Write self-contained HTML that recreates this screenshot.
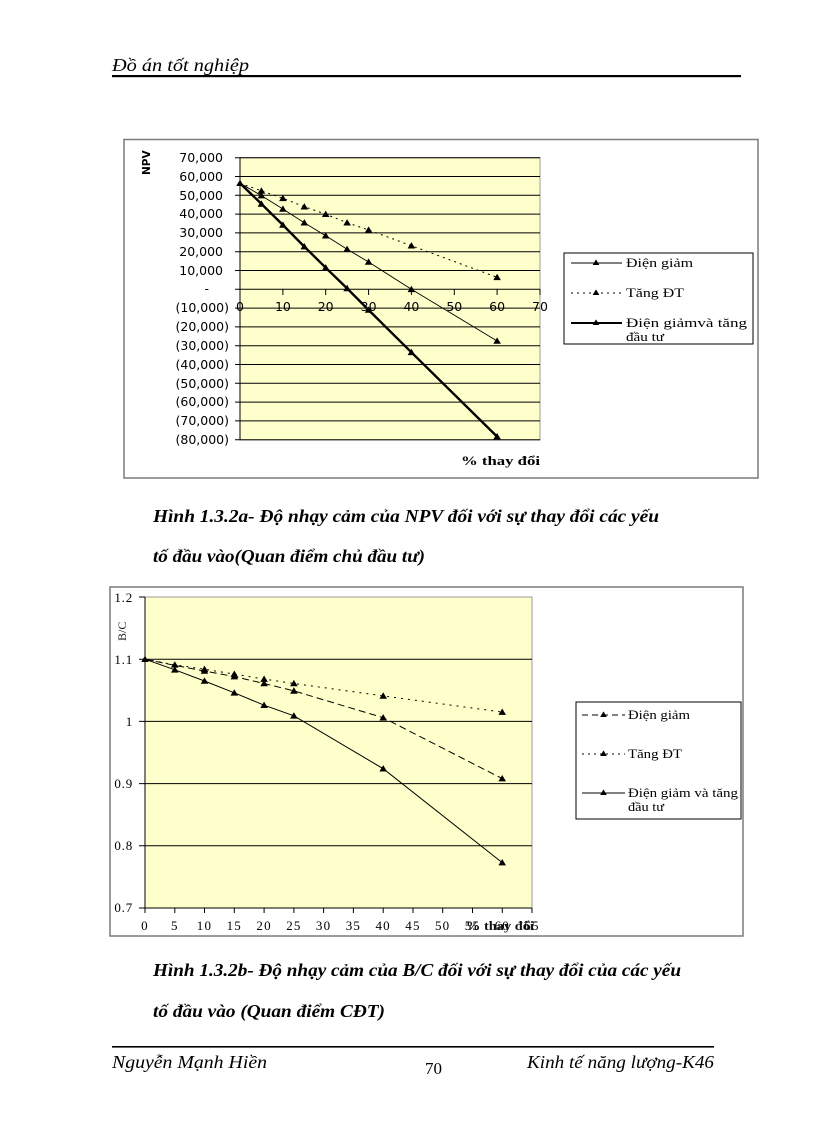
<!DOCTYPE html>
<html>
<head>
<meta charset="utf-8">
<style>
  html,body{margin:0;padding:0;background:#fff;}
  svg{display:block;}
  .ser{font-family:"Liberation Serif","DejaVu Serif",serif;}
  .sans{font-family:"DejaVu Sans","Liberation Sans",sans-serif;}
</style>
</head>
<body>
<svg width="816" height="1123" viewBox="0 0 816 1123" xmlns="http://www.w3.org/2000/svg">
  <defs>
    <symbol id="tri" viewBox="-4 -4 8 8" overflow="visible">
      <polygon points="0,-3.6 3.8,2.8 -3.8,2.8" fill="#000"/>
    </symbol>
  </defs>

  <!-- Header -->
  <text x="112" y="71" class="ser" font-style="italic" font-size="18" textLength="137" lengthAdjust="spacingAndGlyphs">Đồ án tốt nghiệp</text>
  <rect x="112" y="75" width="629" height="2.2" fill="#000"/>

  <!-- ================= CHART 1 ================= -->
  <rect x="124" y="139.5" width="634" height="338.5" fill="#fff" stroke="#7a7a7a" stroke-width="1.5"/>
  <rect x="240" y="157.7" width="300" height="282.3" fill="#ffffcc" stroke="#9a9a9a" stroke-width="1"/>
  <g stroke="#000" stroke-width="1">
    <line x1="240" y1="157.7" x2="540" y2="157.7"/>
    <line x1="240" y1="176.5" x2="540" y2="176.5"/>
    <line x1="240" y1="195.3" x2="540" y2="195.3"/>
    <line x1="240" y1="214.1" x2="540" y2="214.1"/>
    <line x1="240" y1="232.9" x2="540" y2="232.9"/>
    <line x1="240" y1="251.7" x2="540" y2="251.7"/>
    <line x1="240" y1="270.5" x2="540" y2="270.5"/>
    <line x1="240" y1="289.3" x2="540" y2="289.3"/>
    <line x1="240" y1="308.1" x2="540" y2="308.1"/>
    <line x1="240" y1="326.9" x2="540" y2="326.9"/>
    <line x1="240" y1="345.7" x2="540" y2="345.7"/>
    <line x1="240" y1="364.5" x2="540" y2="364.5"/>
    <line x1="240" y1="383.3" x2="540" y2="383.3"/>
    <line x1="240" y1="402.1" x2="540" y2="402.1"/>
    <line x1="240" y1="420.9" x2="540" y2="420.9"/>
    <line x1="240" y1="439.7" x2="540" y2="439.7"/>
    <line x1="240" y1="157.7" x2="240" y2="440"/>
    <path d="M235 157.7H240M235 176.5H240M235 195.3H240M235 214.1H240M235 232.9H240M235 251.7H240M235 270.5H240M235 289.3H240M235 308.1H240M235 326.9H240M235 345.7H240M235 364.5H240M235 383.3H240M235 402.1H240M235 420.9H240M235 439.7H240"/>
    <path d="M240 289.3V295M282.9 289.3V295M325.7 289.3V295M368.6 289.3V295M411.4 289.3V295M454.3 289.3V295M497.1 289.3V295M540 289.3V295"/>
  </g>
  <g class="sans" font-size="12.5" fill="#000" text-anchor="end">
    <text x="223" y="162">70,000</text>
    <text x="223" y="181">60,000</text>
    <text x="223" y="200">50,000</text>
    <text x="223" y="218">40,000</text>
    <text x="223" y="237">30,000</text>
    <text x="223" y="256">20,000</text>
    <text x="223" y="275">10,000</text>
    <text x="209" y="293">-</text>
    <text x="229" y="312">(10,000)</text>
    <text x="229" y="331">(20,000)</text>
    <text x="229" y="350">(30,000)</text>
    <text x="229" y="369">(40,000)</text>
    <text x="229" y="388">(50,000)</text>
    <text x="229" y="406">(60,000)</text>
    <text x="229" y="425">(70,000)</text>
    <text x="229" y="444">(80,000)</text>
  </g>
  <g class="sans" font-size="12.5" fill="#000" text-anchor="middle">
    <text x="240" y="311">0</text>
    <text x="282.9" y="311">10</text>
    <text x="325.7" y="311">20</text>
    <text x="368.6" y="311">30</text>
    <text x="411.4" y="311">40</text>
    <text x="454.3" y="311">50</text>
    <text x="497.1" y="311">60</text>
    <text x="540" y="311">70</text>
  </g>
  <text transform="translate(150,175) rotate(-90)" class="sans" font-size="10.5" font-weight="bold">NPV</text>
  <text x="461" y="465" class="ser" font-size="13" font-weight="bold" textLength="79" lengthAdjust="spacingAndGlyphs">%  thay đổi</text>

  <!-- series chart 1 -->
  <polyline fill="none" stroke="#000" stroke-width="1" stroke-dasharray="2,4"
    points="240,183.2 261.4,190.9 282.9,198.3 304.3,206.7 325.7,214.2 347.1,222.7 368.6,230 411.4,245.7 497.1,277.3"/>
  <polyline fill="none" stroke="#000" stroke-width="0.9"
    points="240,183.2 261.4,195.6 282.9,209 304.3,222.7 325.7,235.7 347.1,249.2 368.6,262 411.4,289.3 497.1,341"/>
  <polyline fill="none" stroke="#000" stroke-width="2.4"
    points="240,183.2 261.4,203.9 282.9,225 304.3,246.6 325.7,267.7 347.1,288.4 368.6,310 411.4,352.3 497.1,436.6"/>
  <g>
    <use href="#tri" x="236" y="179.2" width="8" height="8"/>
    <use href="#tri" x="257.4" y="186.9" width="8" height="8"/>
    <use href="#tri" x="278.9" y="194.3" width="8" height="8"/>
    <use href="#tri" x="300.3" y="202.7" width="8" height="8"/>
    <use href="#tri" x="321.7" y="210.2" width="8" height="8"/>
    <use href="#tri" x="343.1" y="218.7" width="8" height="8"/>
    <use href="#tri" x="364.6" y="226" width="8" height="8"/>
    <use href="#tri" x="407.4" y="241.7" width="8" height="8"/>
    <use href="#tri" x="493.1" y="273.3" width="8" height="8"/>

    <use href="#tri" x="257.4" y="191.6" width="8" height="8"/>
    <use href="#tri" x="278.9" y="205" width="8" height="8"/>
    <use href="#tri" x="300.3" y="218.7" width="8" height="8"/>
    <use href="#tri" x="321.7" y="231.7" width="8" height="8"/>
    <use href="#tri" x="343.1" y="245.2" width="8" height="8"/>
    <use href="#tri" x="364.6" y="258" width="8" height="8"/>
    <use href="#tri" x="407.4" y="285.3" width="8" height="8"/>
    <use href="#tri" x="493.1" y="337" width="8" height="8"/>

    <use href="#tri" x="257.4" y="199.9" width="8" height="8"/>
    <use href="#tri" x="278.9" y="221" width="8" height="8"/>
    <use href="#tri" x="300.3" y="242.6" width="8" height="8"/>
    <use href="#tri" x="321.7" y="263.7" width="8" height="8"/>
    <use href="#tri" x="343.1" y="284.4" width="8" height="8"/>
    <use href="#tri" x="364.6" y="306" width="8" height="8"/>
    <use href="#tri" x="407.4" y="348.3" width="8" height="8"/>
    <use href="#tri" x="493.1" y="432.6" width="8" height="8"/>
  </g>

  <!-- legend chart 1 -->
  <rect x="564" y="253" width="189" height="91" fill="#fff" stroke="#000" stroke-width="1"/>
  <line x1="571" y1="263" x2="622" y2="263" stroke="#000" stroke-width="0.9"/>
  <use href="#tri" x="592.5" y="259" width="7" height="7"/>
  <line x1="571" y1="293" x2="622" y2="293" stroke="#000" stroke-width="1" stroke-dasharray="2,4"/>
  <use href="#tri" x="592.5" y="289" width="7" height="7"/>
  <line x1="571" y1="323" x2="622" y2="323" stroke="#000" stroke-width="2"/>
  <use href="#tri" x="592.5" y="319" width="7" height="7"/>
  <g class="ser" font-size="13" fill="#000">
    <text x="626" y="267" textLength="67" lengthAdjust="spacingAndGlyphs">Điện giảm</text>
    <text x="626" y="297" textLength="58" lengthAdjust="spacingAndGlyphs">Tăng ĐT</text>
    <text x="626" y="327" textLength="121" lengthAdjust="spacingAndGlyphs">Điện giảmvà tăng</text>
    <text x="626" y="341" textLength="38" lengthAdjust="spacingAndGlyphs">đầu tư</text>
  </g>

  <!-- Caption 1 -->
  <g class="ser" font-weight="bold" font-style="italic" font-size="18">
    <text x="153" y="522" textLength="506" lengthAdjust="spacingAndGlyphs">Hình 1.3.2a- Độ nhạy cảm của NPV đối với sự thay đổi các yếu</text>
    <text x="153" y="562" textLength="272" lengthAdjust="spacingAndGlyphs">tố đầu vào(Quan điểm chủ đầu tư)</text>
  </g>

  <!-- ================= CHART 2 ================= -->
  <rect x="110" y="587" width="633" height="349" fill="#fff" stroke="#7a7a7a" stroke-width="1.5"/>
  <rect x="145" y="597" width="387" height="311" fill="#ffffcc" stroke="#9a9a9a" stroke-width="1"/>
  <g stroke="#000" stroke-width="1">
    <line x1="145" y1="659.2" x2="532" y2="659.2"/>
    <line x1="145" y1="721.4" x2="532" y2="721.4"/>
    <line x1="145" y1="783.6" x2="532" y2="783.6"/>
    <line x1="145" y1="845.8" x2="532" y2="845.8"/>
    <line x1="145" y1="908" x2="532" y2="908"/>
    <line x1="145" y1="597" x2="145" y2="908"/>
    <path d="M139 597H145M139 659.2H145M139 721.4H145M139 783.6H145M139 845.8H145M139 908H145"/>
    <path d="M145 908V913M174.8 908V913M204.5 908V913M234.3 908V913M264.1 908V913M293.9 908V913M323.6 908V913M353.4 908V913M383.2 908V913M413 908V913M442.7 908V913M472.5 908V913M502.3 908V913M532 908V913"/>
  </g>
  <g class="ser" font-size="13" fill="#000" text-anchor="end" letter-spacing="0.8">
    <text x="133" y="602">1.2</text>
    <text x="133" y="664">1.1</text>
    <text x="133" y="726">1</text>
    <text x="133" y="788">0.9</text>
    <text x="133" y="850">0.8</text>
    <text x="133" y="912">0.7</text>
  </g>
  <g class="ser" font-size="13" fill="#000" text-anchor="middle" letter-spacing="1.2">
    <text x="145" y="930">0</text>
    <text x="174.8" y="930">5</text>
    <text x="204.5" y="930">10</text>
    <text x="234.3" y="930">15</text>
    <text x="264.1" y="930">20</text>
    <text x="293.9" y="930">25</text>
    <text x="323.6" y="930">30</text>
    <text x="353.4" y="930">35</text>
    <text x="383.2" y="930">40</text>
    <text x="413" y="930">45</text>
    <text x="442.7" y="930">50</text>
    <text x="472.5" y="930">55</text>
    <text x="502.3" y="930">60</text>
    <text x="532" y="930">65</text>
  </g>
  <text x="466" y="930" class="ser" font-size="13" font-weight="bold" fill="#111" textLength="68" lengthAdjust="spacingAndGlyphs">% thay đổi</text>
  <text transform="translate(126,641) rotate(-90)" class="ser" font-size="12" fill="#222">B/C</text>

  <!-- series chart 2 -->
  <polyline fill="none" stroke="#000" stroke-width="1" stroke-dasharray="2,5"
    points="145,659.2 174.8,664.8 204.5,669.2 234.3,674.1 264.1,679.1 293.9,683.5 383.2,695.9 502.2,712.1"/>
  <polyline fill="none" stroke="#000" stroke-width="1" stroke-dasharray="7,4"
    points="145,659.2 174.8,665.4 204.5,671 234.3,676.6 264.1,683.5 293.9,690.9 383.2,717.7 502.2,778.6"/>
  <polyline fill="none" stroke="#000" stroke-width="1"
    points="145,659.2 174.8,669.8 204.5,681 234.3,692.8 264.1,705.2 293.9,715.8 383.2,768.7 502.2,862.6"/>
  <g>
    <use href="#tri" x="141" y="655.2" width="8" height="8"/>
    <use href="#tri" x="170.8" y="660.8" width="8" height="8"/>
    <use href="#tri" x="200.5" y="665.2" width="8" height="8"/>
    <use href="#tri" x="230.3" y="670.1" width="8" height="8"/>
    <use href="#tri" x="260.1" y="675.1" width="8" height="8"/>
    <use href="#tri" x="289.9" y="679.5" width="8" height="8"/>
    <use href="#tri" x="379.2" y="691.9" width="8" height="8"/>
    <use href="#tri" x="498.2" y="708.1" width="8" height="8"/>

    <use href="#tri" x="200.5" y="667" width="8" height="8"/>
    <use href="#tri" x="230.3" y="672.6" width="8" height="8"/>
    <use href="#tri" x="260.1" y="679.5" width="8" height="8"/>
    <use href="#tri" x="289.9" y="686.9" width="8" height="8"/>
    <use href="#tri" x="379.2" y="713.7" width="8" height="8"/>
    <use href="#tri" x="498.2" y="774.6" width="8" height="8"/>

    <use href="#tri" x="170.8" y="665.8" width="8" height="8"/>
    <use href="#tri" x="200.5" y="677" width="8" height="8"/>
    <use href="#tri" x="230.3" y="688.8" width="8" height="8"/>
    <use href="#tri" x="260.1" y="701.2" width="8" height="8"/>
    <use href="#tri" x="289.9" y="711.8" width="8" height="8"/>
    <use href="#tri" x="379.2" y="764.7" width="8" height="8"/>
    <use href="#tri" x="498.2" y="858.6" width="8" height="8"/>
  </g>

  <!-- legend chart 2 -->
  <rect x="576" y="702" width="165" height="117" fill="#fff" stroke="#000" stroke-width="1"/>
  <line x1="582" y1="715" x2="625" y2="715" stroke="#000" stroke-width="1" stroke-dasharray="6,4"/>
  <use href="#tri" x="600" y="711" width="7" height="7"/>
  <line x1="582" y1="754" x2="625" y2="754" stroke="#000" stroke-width="1" stroke-dasharray="2,4"/>
  <use href="#tri" x="600" y="750" width="7" height="7"/>
  <line x1="582" y1="793" x2="625" y2="793" stroke="#000" stroke-width="1"/>
  <use href="#tri" x="600" y="789" width="7" height="7"/>
  <g class="ser" font-size="12.5" fill="#000">
    <text x="628" y="719" textLength="62" lengthAdjust="spacingAndGlyphs">Điện giảm</text>
    <text x="628" y="758" textLength="54" lengthAdjust="spacingAndGlyphs">Tăng ĐT</text>
    <text x="628" y="797" textLength="110" lengthAdjust="spacingAndGlyphs">Điện giảm và tăng</text>
    <text x="628" y="811" textLength="36" lengthAdjust="spacingAndGlyphs">đầu tư</text>
  </g>

  <!-- Caption 2 -->
  <g class="ser" font-weight="bold" font-style="italic" font-size="18">
    <text x="153" y="976" textLength="528" lengthAdjust="spacingAndGlyphs">Hình 1.3.2b- Độ nhạy cảm của B/C đối với sự thay đổi của các yếu</text>
    <text x="153" y="1017" textLength="232" lengthAdjust="spacingAndGlyphs">tố đầu vào (Quan điểm CĐT)</text>
  </g>

  <!-- Footer -->
  <rect x="112" y="1046" width="602" height="1.6" fill="#000"/>
  <text x="112" y="1068" class="ser" font-style="italic" font-size="18" textLength="155" lengthAdjust="spacingAndGlyphs">Nguyễn Mạnh Hiền</text>
  <text x="425" y="1074" class="ser" font-size="17">70</text>
  <text x="527" y="1068" class="ser" font-style="italic" font-size="18" textLength="187" lengthAdjust="spacingAndGlyphs">Kinh tế năng lượng-K46</text>
</svg>
</body>
</html>
